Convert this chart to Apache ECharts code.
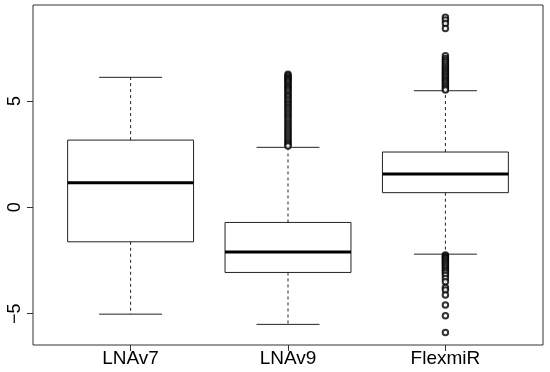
<!DOCTYPE html>
<html>
<head>
<meta charset="utf-8">
<script src="https://cdn.jsdelivr.net/npm/echarts@6/dist/echarts.min.js"></script>
<style>
html,body{margin:0;padding:0;background:#fff;}
#chart{width:550px;height:372px;}
</style>
</head>
<body>
<div id="chart"></div>
<script>
const categories = ['LNAv7', 'LNAv9', 'FlexmiR'];
const lowerWhisker = [-5.02, -5.50, -2.20];
const q1 = [-1.62, -3.06, 0.69];
const median = [1.16, -2.10, 1.57];
const q3 = [3.16, -0.71, 2.60];
const upperWhisker = [6.11, 2.82, 5.48];

const outliersLNAv7 = [];
const outliersLNAv9 = [6.25, 6.18, 6.12, 6.06, 6.0, 5.94, 5.88, 5.8, 5.72, 5.65, 5.57, 5.5, 5.42, 5.33,
  5.25, 5.17, 5.08, 5.0, 4.9, 4.82, 4.73, 4.64, 4.55, 4.46, 4.36, 4.27, 4.18, 4.08, 3.98, 3.88,
  3.79, 3.69, 3.6, 3.5, 3.41, 3.32, 3.22, 3.13, 3.04, 2.95, 2.88];
const outliersFlexmiR = [8.93, 8.80, 8.64, 8.40, 7.12, 7.0, 6.9, 6.82, 6.72, 6.63, 6.55, 6.47, 6.39,
  6.31, 6.23, 6.15, 6.07, 5.99, 5.91, 5.83, 5.75, 5.67, 5.59, 5.52,
  -2.24, -2.3, -2.36, -2.42, -2.49, -2.56, -2.63, -2.7, -2.78, -2.86, -2.94, -3.02, -3.1, -3.2,
  -3.35, -3.5, -3.77, -3.89, -4.12, -4.59, -5.1, -5.88];
const yTicks = [-5, 0, 5];
const xTicks = [1, 2, 3];

const boxData = categories.map((c, i) => [i + 1, lowerWhisker[i], q1[i], median[i], q3[i], upperWhisker[i]]);
const outlierData = [];
[outliersLNAv7, outliersLNAv9, outliersFlexmiR].forEach((arr, i) => {
  arr.forEach(v => outlierData.push([i + 1, v]));
});

const chart = echarts.init(document.getElementById('chart'), null, {renderer: 'canvas'});
const lineCol = '#222';
chart.setOption({
  animation: false,
  backgroundColor: '#fff',
  grid: {left: 33, right: 7, top: 5, bottom: 27, show: true, borderColor: '#333', borderWidth: 1, backgroundColor: 'transparent'},
  xAxis: {
    type: 'value', min: 0.38, max: 3.62,
    axisLine: {show: false, onZero: false},
    splitLine: {show: false},
    axisTick: {show: true, length: 6, customValues: xTicks, lineStyle: {color: '#333'}},
    axisLabel: {
      customValues: xTicks, margin: 4, fontSize: 19, color: '#000', fontFamily: 'Liberation Sans',
      formatter: v => categories[Math.round(v) - 1] || ''
    }
  },
  yAxis: {
    type: 'value', min: -6.47, max: 9.51,
    axisLine: {show: false, onZero: false},
    splitLine: {show: false},
    axisTick: {show: true, length: 6, customValues: yTicks, lineStyle: {color: '#333'}},
    axisLabel: {
      customValues: yTicks, rotate: 90, margin: 9, fontSize: 18, color: '#000', fontFamily: 'Liberation Sans',
      formatter: v => (v < 0 ? '\u2212' + Math.abs(v) : String(v))
    }
  },
  series: [
    {
      type: 'custom',
      data: boxData,
      clip: false,
      renderItem: function (params, api) {
        const x = api.value(0);
        const lo = api.coord([x, api.value(1)]);
        const b1 = api.coord([x, api.value(2)]);
        const md = api.coord([x, api.value(3)]);
        const b3 = api.coord([x, api.value(4)]);
        const hi = api.coord([x, api.value(5)]);
        const hw = api.size([0.4, 0])[0];
        const cw = api.size([0.2, 0])[0];
        const cx = lo[0];
        const thin = {stroke: lineCol, lineWidth: 1, fill: null};
        return {
          type: 'group',
          children: [
            {type: 'line', shape: {x1: cx, y1: b3[1], x2: cx, y2: hi[1]}, style: {stroke: lineCol, lineWidth: 1, lineDash: [3, 3]}},
            {type: 'line', shape: {x1: cx, y1: b1[1], x2: cx, y2: lo[1]}, style: {stroke: lineCol, lineWidth: 1, lineDash: [3, 3]}},
            {type: 'line', shape: {x1: cx - cw, y1: hi[1], x2: cx + cw, y2: hi[1]}, style: thin},
            {type: 'line', shape: {x1: cx - cw, y1: lo[1], x2: cx + cw, y2: lo[1]}, style: thin},
            {type: 'rect', shape: {x: cx - hw, y: b3[1], width: 2 * hw, height: b1[1] - b3[1]}, style: {stroke: lineCol, lineWidth: 1, fill: 'transparent'}},
            {type: 'line', shape: {x1: cx - hw, y1: md[1], x2: cx + hw, y2: md[1]}, style: {stroke: '#000', lineWidth: 3}}
          ]
        };
      }
    },
    {
      type: 'scatter',
      data: outlierData,
      symbol: 'emptyCircle',
      symbolSize: 5.5,
      itemStyle: {color: '#000', borderColor: '#000', borderWidth: 1},
      emphasis: {disabled: true}
    }
  ]
});
</script>
</body>
</html>
